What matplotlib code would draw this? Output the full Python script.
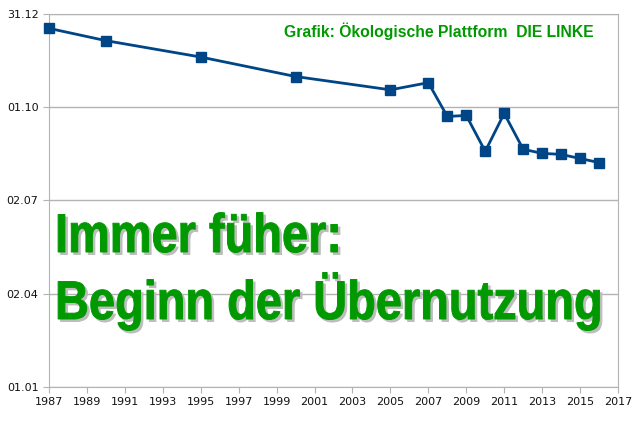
#Earth overshoot day chart - recreation
#imports
import matplotlib
matplotlib.use('Agg')
import matplotlib.pyplot as plt
import matplotlib.patheffects as pe
from matplotlib.colors import to_rgba
from matplotlib.transforms import Affine2D

#data: year and day of year of the overshoot day
years = [1987, 1990, 1995, 2000, 2005, 2007, 2008, 2009, 2010, 2011, 2012, 2013, 2014, 2015, 2016]
days = [351, 339, 323, 304, 291, 298, 265, 266, 231, 268, 233, 229, 228, 224, 220]

#axis ticks
y_ticks = [1, 92, 183, 274, 365]
y_labels = ['01.01', '02.04', '02.07', '01.10', '31.12']
x_ticks = list(range(1987, 2018, 2))

green = '#009900'
grey = '#b3b3b3'


#path effect: stretch text vertically (narrow-font look), thicken it a bit and add a grey shadow
class TallShadow(pe.AbstractPathEffect):
    def __init__(self, y0, sy, color, shadow='#bdbdbd', off=2.5, lw=0.7):
        super().__init__()
        self.y0, self.sy, self.off, self.lw = y0, sy, off, lw
        self.color, self.shadow = to_rgba(color), to_rgba(shadow)

    def draw_path(self, renderer, gc, tpath, affine, rgbFace=None):
        stretch = Affine2D().translate(0, -self.y0).scale(1, self.sy).translate(0, self.y0)
        for col, shift in [(self.shadow, self.off), (self.color, 0)]:
            g = renderer.new_gc()
            g.copy_properties(gc)
            g.set_foreground(col)
            g.set_linewidth(self.lw)
            g.set_joinstyle('round')
            renderer.draw_path(g, tpath, affine + stretch + Affine2D().translate(shift, -shift), col)
            g.restore()


fig = plt.figure(figsize=(6.4, 4.25), dpi=100)
ax = fig.add_axes([49/640, 38/425, 569/640, 373/425])

#line with square markers
ax.plot(years, days, color='#004586', linewidth=2, marker='s', markersize=7, zorder=3, clip_on=False)

ax.set_xlim(1987, 2017)
ax.set_ylim(1, 365)
ax.set_xticks(x_ticks)
ax.set_yticks(y_ticks)
ax.set_yticklabels(y_labels)
ax.tick_params(axis='both', labelsize=8, color=grey, length=4, labelcolor='#111111')
ax.grid(axis='y', color=grey, linewidth=1)
ax.set_axisbelow(True)
for s in ax.spines.values():
    s.set_color(grey)

#header
ax.text(0.958, 0.955, 'Grafik: Ökologische Plattform  DIE LINKE', transform=ax.transAxes,
        ha='right', va='center', fontsize=11.3, fontweight='bold', color=green, family='Liberation Sans')

#big title (positions in pixels from bottom-left)
y1 = 425 - 252
y2 = 425 - 319
ax.text(55, y1, 'Immer füher:', transform=None, fontsize=33.8, fontweight='bold',
        color=green, family='Liberation Sans', ha='left', va='baseline',
        path_effects=[TallShadow(y1, 1.16, green)])
ax.text(55, y2, 'Beginn der Übernutzung', transform=None, fontsize=33.8, fontweight='bold',
        color=green, family='Liberation Sans', ha='left', va='baseline',
        path_effects=[TallShadow(y2, 1.16, green)])

fig.savefig('out.png', dpi=100)
